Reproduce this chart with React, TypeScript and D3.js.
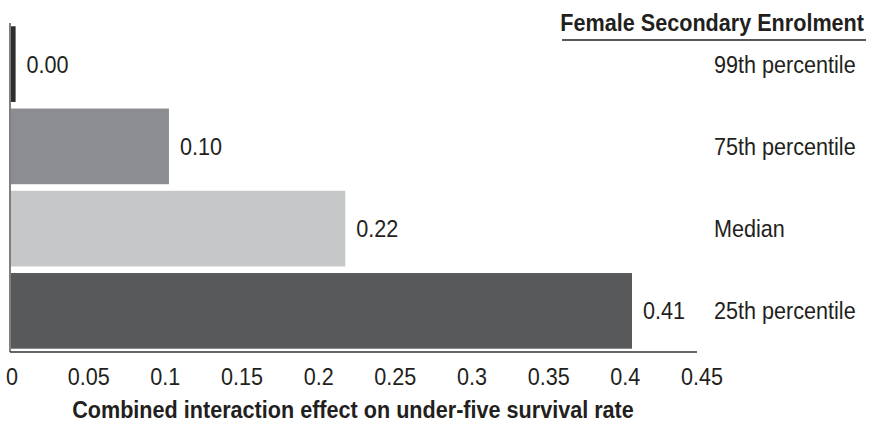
import React from "react";
import * as d3 from "d3";

const categories = ["99th percentile", "75th percentile", "Median", "25th percentile"];
const values = [0.003, 0.103, 0.218, 0.405];
const valueLabels = ["0.00", "0.10", "0.22", "0.41"];
const colors = ["#2e2e30", "#8c8d90", "#c6c7c9", "#58595b"];
const ticks = [0, 0.05, 0.1, 0.15, 0.2, 0.25, 0.3, 0.35, 0.4, 0.45];
const tickLabels = ["0", "0.05", "0.1", "0.15", "0.2", "0.25", "0.3", "0.35", "0.4", "0.45"];

const W = 874;
const H = 424;
const FONT = "'Liberation Sans', Arial, sans-serif";
const SX = 0.9;

function T(props: {
  x: number;
  y: number;
  anchor?: string;
  size?: number;
  bold?: boolean;
  dy?: string;
  children: React.ReactNode;
}) {
  return (
    <g transform={`translate(${props.x},${props.y}) scale(${SX},1)`}>
      <text
        x={0}
        y={0}
        dy={props.dy}
        textAnchor={props.anchor || "start"}
        fontSize={props.size || 24}
        fontWeight={props.bold ? "bold" : "normal"}
        fill="#231f20"
      >
        {props.children}
      </text>
    </g>
  );
}

export default function App() {
  const x = d3.scaleLinear().domain([0, 0.45]).range([11, 701]);
  const y = d3.scaleBand().domain(categories).range([23, 352]).paddingInner(0.08).paddingOuter(0.04);

  return (
    <svg width={W} height={H} style={{ position: "absolute", left: 0, top: 0 }} fontFamily={FONT}>
      <rect x={0} y={0} width={W} height={H} fill="#fff" />
      {categories.map((c, i) => {
        const cy = (y(c) as number) + y.bandwidth() / 2;
        return (
          <g key={c}>
            <rect x={x(0)} y={y(c)} width={x(values[i]) - x(0)} height={y.bandwidth()} fill={colors[i]} />
            <T x={x(values[i]) + 11} y={cy} dy="0.35em">
              {valueLabels[i]}
            </T>
            <T x={714} y={cy} dy="0.35em">
              {c}
            </T>
          </g>
        );
      })}
      <line x1={10} x2={10} y1={23} y2={352} stroke="#555" strokeWidth={1.5} />
      <line x1={10} x2={697} y1={352} y2={352} stroke="#333" strokeWidth={1.5} />
      {ticks.map((t, i) => (
        <T key={t} x={x(t) + 1} y={385} anchor="middle">
          {tickLabels[i]}
        </T>
      ))}
      <T x={353} y={418} anchor="middle" bold>
        Combined interaction effect on under-five survival rate
      </T>
      <T x={864} y={31} anchor="end" bold>
        Female Secondary Enrolment
      </T>
      <line x1={562} x2={866} y1={40} y2={40} stroke="#231f20" strokeWidth={1.5} />
    </svg>
  );
}
